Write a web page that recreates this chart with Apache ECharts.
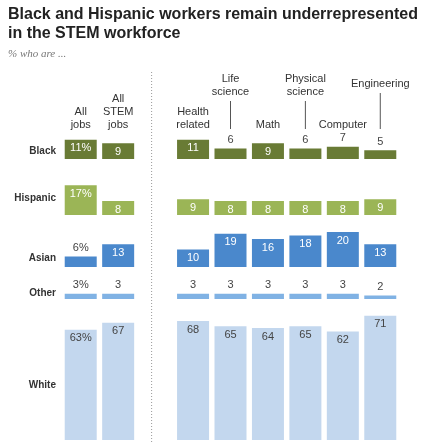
<!DOCTYPE html><html><head><meta charset="utf-8">
<script src="https://cdn.jsdelivr.net/npm/echarts@6/dist/echarts.min.js"></script>
<style>body{margin:0}#c{width:421px;height:447px}</style></head><body><div id="c"></div>
<script>
const categories=['All jobs','All STEM jobs','','Health related','Life science','Math','Physical science','Computer','Engineering'];
const rows=['Black','Hispanic','Asian','Other','White'];
const black=[11,9,null,11,6,9,6,7,5];
const hispanic=[17,8,null,9,8,8,8,8,9];
const asian=[6,13,null,10,19,16,18,20,13];
const other=[3,3,null,3,3,3,3,3,2];
const white=[63,67,null,68,65,64,65,62,71];
const series=[black,hispanic,asian,other,white];
const colors=['#697b35','#9bb556','#4a88cc','#80b2e4','#c3d7ee'];
const baselines=[159,215,267,299,440], maxes=[12,18,21,4,72], k=1.75;
const chart=echarts.init(document.getElementById('c'));
const grids=[],xAxes=[],yAxes=[],ser=[];
rows.forEach((r,i)=>{
  const h=maxes[i]*k;
  grids.push({left:62,right:22,top:baselines[i]-h,height:h});
  xAxes.push({type:'category',gridIndex:i,data:categories,axisLine:{show:false},axisTick:{show:false},axisLabel:{show:false}});
  yAxes.push({type:'value',gridIndex:i,min:0,max:maxes[i],show:false});
  ser.push({type:'bar',xAxisIndex:i,yAxisIndex:i,barWidth:32,
    data:series[i].map((v,j)=>{
      if(v==null) return null;
      const inside=v>=8;
      return {value:v,label:{show:true,position:inside?'insideTop':'top',distance:3,
        color:inside?(i==4?'#444':'#fff'):'#444',fontSize:11,fontFamily:'Arial',
        formatter:j==0?v+'%':''+v}};
    }),itemStyle:{color:colors[i]}});
});
chart.setOption({animation:false,grid:grids,xAxis:xAxes,yAxis:yAxes,series:ser});
const g=[
 {type:'text',left:8,top:5,style:{text:'Black and Hispanic workers remain underrepresented\nin the STEM workforce',font:'bold 16px Arial',fill:'#222',lineHeight:19}},
 {type:'text',left:8,top:49,style:{text:'% who are ...',font:'italic 11px Georgia, serif',fill:'#777'}}
];
const labY=[151,198,258,293,385];
rows.forEach((r,i)=>g.push({type:'text',x:56,y:labY[i],style:{text:r,font:'bold 10px Arial',fill:'#333',align:'right',verticalAlign:'middle'}}));
const hdr=[['All\njobs',0,'b'],['All\nSTEM\njobs',1,'b'],['Health\nrelated',3,'b'],['Life\nscience',4,'t'],['Math',5,'b'],['Physical\nscience',6,'t'],['Computer',7,'b'],['Engineering',8,'t']];
hdr.forEach(([t,j,p])=>{
  const x=chart.convertToPixel({xAxisIndex:0},categories[j]);
  if(p=='b'){g.push({type:'text',x:x,y:131,style:{text:t,font:'11px Arial',fill:'#333',align:'center',verticalAlign:'bottom',lineHeight:13}});}
  else{g.push({type:'text',x:x,y:t.includes('\n')?98:90,style:{text:t,font:'11px Arial',fill:'#333',align:'center',verticalAlign:'bottom',lineHeight:13}});
    g.push({type:'line',shape:{x1:x,y1:t.includes('\n')?101:93,x2:x,y2:129},style:{stroke:'#555',lineWidth:1}});}
});
const xs=chart.convertToPixel({xAxisIndex:0},categories[2]);
g.push({type:'line',shape:{x1:xs-4,y1:72,x2:xs-4,y2:442},style:{stroke:'#999',lineWidth:1,lineDash:[1,2]}});
chart.setOption({graphic:g});
</script></body></html>
